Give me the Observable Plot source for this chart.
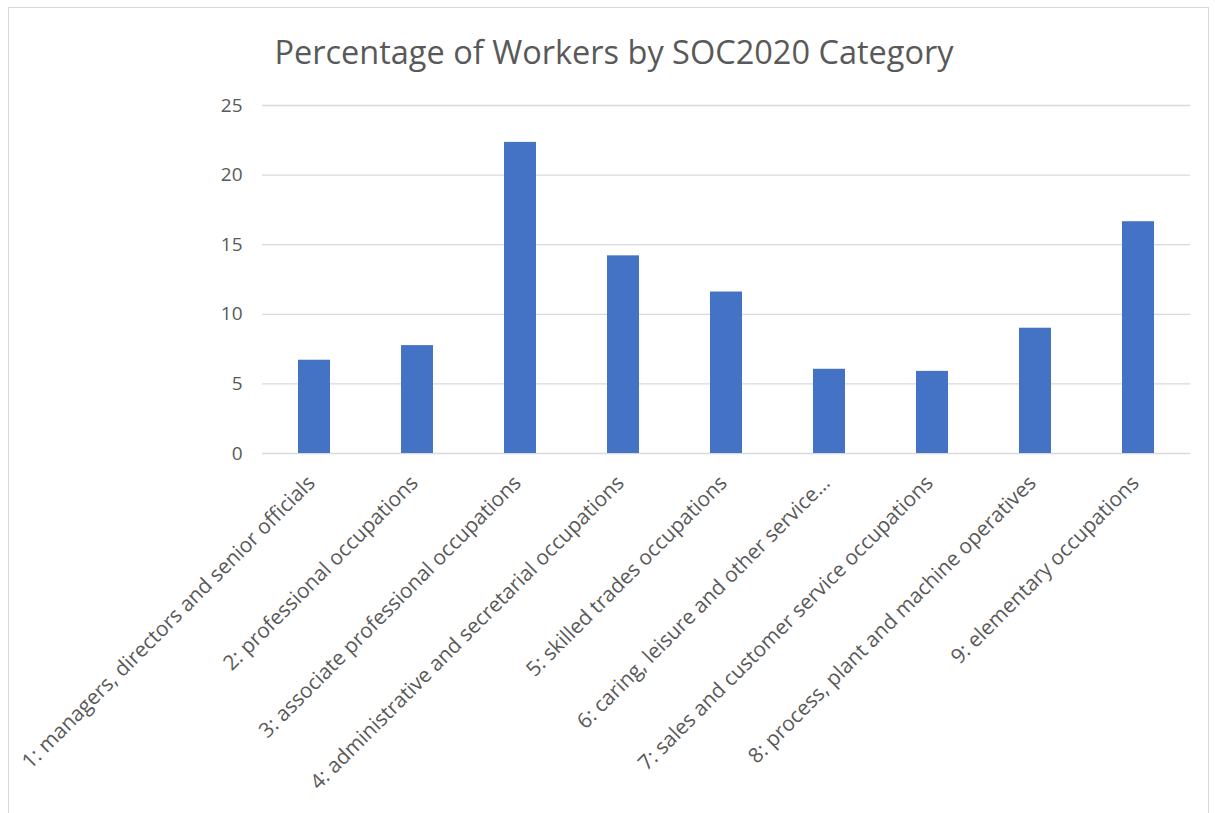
<!DOCTYPE html>
<html>
<head>
<meta charset="utf-8">
<script src="https://cdn.jsdelivr.net/npm/d3@7"></script>
<script src="https://cdn.jsdelivr.net/npm/@observablehq/plot@0.6"></script>
<style>
  html, body { margin: 0; padding: 0; background: #fff; }
  body { width: 1215px; height: 813px; position: relative; overflow: hidden; font-family: "Open Sans", sans-serif; }
  #frame { position: absolute; left: 8px; top: 7px; width: 1201px; height: 812px; border: 1px solid #d9d9d9; box-sizing: border-box; }
  #title { position: absolute; left: 0; top: 29px; width: 1228px; text-align: center; font-size: 32.5px; color: #595959; font-family: "Open Sans", sans-serif; line-height: 46px; }
  #chart { position: absolute; left: 0; top: 90px; }
</style>
</head>
<body>
<div id="frame"></div>
<div id="title">Percentage of Workers by SOC2020 Category</div>
<div id="chart"></div>
<script>
const categories = [
  "1: managers, directors and senior officials",
  "2: professional occupations",
  "3: associate professional occupations",
  "4: administrative and secretarial occupations",
  "5: skilled trades occupations",
  "6: caring, leisure and other service…",
  "7: sales and customer service occupations",
  "8: process, plant and machine operatives",
  "9: elementary occupations"
];
const percentages = [6.7, 7.75, 22.35, 14.2, 11.6, 6.05, 5.9, 9.0, 16.65];
const yTicks = [0, 5, 10, 15, 20, 25];

const data = categories.map((c, i) => ({category: c, value: percentages[i]}));

const chart = Plot.plot({
  width: 1215,
  height: 723,
  marginLeft: 262,
  marginRight: 25,
  marginTop: 15,
  marginBottom: 360,
  style: {fontFamily: "Open Sans, sans-serif", background: "transparent"},
  x: {domain: categories, paddingInner: 0.69, paddingOuter: 0.345, label: null},
  y: {domain: [0, 25], label: null},
  marks: [
    Plot.ruleY(yTicks, {stroke: "#d9d9d9", strokeWidth: 1.3, strokeOpacity: 1}),
    Plot.barY(data, {x: "category", y: "value", fill: "#4472C4"}),
    Plot.axisY({ticks: yTicks, tickSize: 0, tickPadding: 20, fontSize: 19, color: "#595959", label: null}),
    Plot.axisX({tickRotate: -45, tickSize: 0, tickPadding: 26, dx: -3, fontSize: 20.8, color: "#595959", label: null, textAnchor: "end"})
  ]
});
document.getElementById("chart").appendChild(chart);
</script>
</body>
</html>
